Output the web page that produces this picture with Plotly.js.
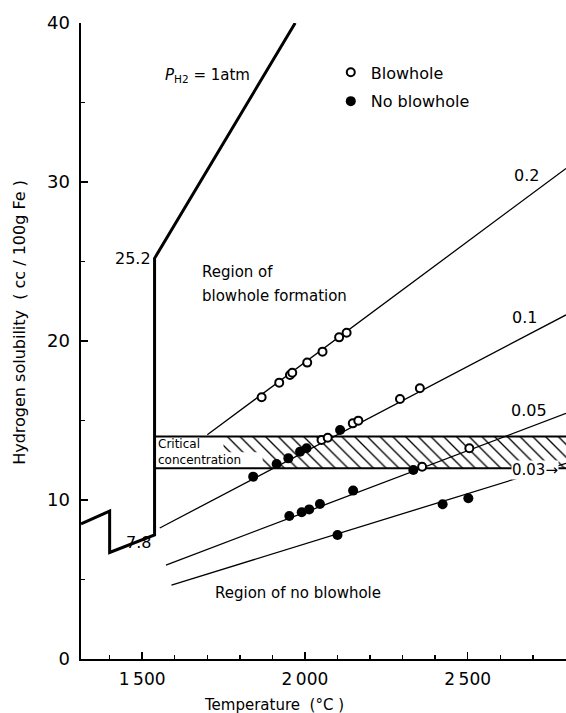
<!DOCTYPE html>
<html>
<head>
<meta charset="utf-8">
<script src="https://cdn.plot.ly/plotly-3.0.1.min.js"></script>
<style>html,body{margin:0;padding:0;background:#fff;}#chart{width:566px;height:713px;}</style>
</head>
<body>
<div id="chart"></div>
<script>
// Solubility curve at P_H2 = 1 atm
const p1Temp = [1312, 1400, 1400, 1538, 1538, 1970];
const p1Sol  = [8.5, 9.3, 6.7, 7.8, 25.2, 40];

// Iso-pressure lines (atm)
const line02Temp = [1700, 2802]; const line02Sol = [14.1, 30.85];
const line01Temp = [1554, 2802]; const line01Sol = [8.24, 21.64];
const line005Temp = [1573, 2802]; const line005Sol = [5.91, 15.45];
const line003Temp = [1590, 2802]; const line003Sol = [4.65, 12.31];
const lineLabels = ['0.2', '0.1', '0.05', '0.03\u2192'];
const lineLabelTemp = [2682, 2676, 2689, 2706];
const lineLabelSol = [30.4, 21.5, 15.66, 11.9];

// Critical concentration band (12 - 14 cc/100g Fe)
const bandLow = 12, bandHigh = 14, bandStart = 1538, bandEnd = 2830;
const bandTemp = [bandStart, bandEnd, bandEnd, bandStart, bandStart];
const bandSol = [bandLow, bandLow, bandHigh, bandHigh, bandLow];
const bandEdgeTemp = [bandStart, bandEnd, null, bandStart, bandEnd];
const bandEdgeSol = [bandLow, bandLow, null, bandHigh, bandHigh];
// white area behind the band label
const labelBoxTemp = [bandStart, 1870, 1870, 1750, 1750, bandStart, bandStart];
const labelBoxSol = [bandLow, bandLow, 13, 13, bandHigh, bandHigh, bandLow];

// Observations
const blowTemp = [1867,1921,1954,1961,2007,2054,2105,2128, 2051,2070,2147,2164,2292,2353, 2360,2505];
const blowSol  = [16.46,17.38,17.86,18.0,18.64,19.33,20.23,20.52, 13.77,13.92,14.82,14.99,16.35,17.03, 12.09,13.25];
const noBlowTemp = [1841,1913,1949,1985,2005,2108, 1952,1990,2013,2046,2148,2333, 2100,2423,2502];
const noBlowSol  = [11.47,12.26,12.62,13.04,13.25,14.4, 8.99,9.23,9.41,9.75,10.59,11.89, 7.80,9.73,10.11];

// Axis ticks
const xTickVals = [1500, 2000, 2500];
const xTickText = ['1\u2009500', '2\u2009000', '2\u2009500'];
const yTickVals = [0, 10, 20, 30, 40];

const F = 'DejaVu Sans, Liberation Sans, sans-serif';
const thin = {color: 'black', width: 1.3};

const traces = [
  {x: bandTemp, y: bandSol, mode: 'lines', fill: 'toself', showlegend: false, hoverinfo: 'skip',
   line: {color: 'black', width: 0}, fillcolor: 'white',
   fillpattern: {shape: '\\', fgcolor: 'black', bgcolor: 'white', size: 9, solidity: 0.15}},
  {x: labelBoxTemp, y: labelBoxSol, mode: 'lines', fill: 'toself', fillcolor: 'white',
   line: {width: 0, color: 'white'}, showlegend: false, hoverinfo: 'skip'},
  {x: bandEdgeTemp, y: bandEdgeSol, mode: 'lines', line: {color: 'black', width: 2}, showlegend: false},
  {x: p1Temp, y: p1Sol, mode: 'lines', line: {color: 'black', width: 3}, showlegend: false},
  {x: line02Temp, y: line02Sol, mode: 'lines', line: thin, showlegend: false},
  {x: line01Temp, y: line01Sol, mode: 'lines', line: thin, showlegend: false},
  {x: line005Temp, y: line005Sol, mode: 'lines', line: thin, showlegend: false},
  {x: line003Temp, y: line003Sol, mode: 'lines', line: thin, showlegend: false},
  {x: blowTemp, y: blowSol, mode: 'markers', name: 'Blowhole', legendgroup: 'a',
   marker: {symbol: 'circle', size: 8, color: 'white', line: {color: 'black', width: 2}}},
  {x: noBlowTemp, y: noBlowSol, mode: 'markers', name: 'No blowhole', legendgroup: 'b',
   marker: {symbol: 'circle', size: 10, color: 'black', line: {color: 'black', width: 0}}}
];

const annotations = [
  {x: 1532, y: 25.2, text: '25.2', xanchor: 'right', yanchor: 'middle', showarrow: false, font: {size: 16}},
  {x: 1532, y: 7.3, text: '7.8', xanchor: 'right', yanchor: 'middle', showarrow: false, font: {size: 16}},
  {x: 1564, y: 36.7, text: '<i>P</i><sub>H2</sub> = 1atm', xanchor: 'left', yanchor: 'middle', showarrow: false, font: {size: 15}},
  {x: 1678, y: 24.35, text: 'Region of', xanchor: 'left', yanchor: 'middle', showarrow: false, font: {size: 15}},
  {x: 1678, y: 22.8, text: 'blowhole formation', xanchor: 'left', yanchor: 'middle', showarrow: false, font: {size: 15}},
  {x: 1717, y: 4.15, text: 'Region of no blowhole', xanchor: 'left', yanchor: 'middle', showarrow: false, font: {size: 15}},
  {x: 1543, y: 13, text: 'Critical<br>concentration', xanchor: 'left', yanchor: 'middle', align: 'left', showarrow: false,
   font: {size: 12}},
  {xref: 'paper', yref: 'paper', x: 0.398, y: -0.0723, text: 'Temperature  (°C )', showarrow: false,
   xanchor: 'center', yanchor: 'middle', font: {size: 15}},
  {xref: 'paper', yref: 'paper', x: -0.126, y: 0.53, text: 'Hydrogen solubility  ( cc / 100g Fe )', showarrow: false,
   textangle: -90, xanchor: 'center', yanchor: 'middle', font: {size: 16}}
];
for (let i = 0; i < lineLabels.length; i++) {
  annotations.push({x: lineLabelTemp[i], y: lineLabelSol[i], text: lineLabels[i], showarrow: false,
    xanchor: 'center', yanchor: 'middle', font: {size: i === 3 ? 15 : 16},
    bgcolor: i === 3 ? 'white' : 'rgba(0,0,0,0)', borderpad: 0});
}

const layout = {
  width: 566, height: 713,
  margin: {l: 81, r: 0, t: 23, b: 54},
  paper_bgcolor: 'white', plot_bgcolor: 'white',
  font: {family: F, color: 'black'},
  showlegend: true,
  legend: {x: 0.515, y: 0.949, xanchor: 'left', yanchor: 'top', bgcolor: 'rgba(0,0,0,0)',
    font: {size: 16}, tracegroupgap: 5, traceorder: 'grouped'},
  xaxis: {range: [1312, 2802], showgrid: false, zeroline: false, showline: true, linecolor: 'black', linewidth: 2,
    ticks: 'inside', ticklen: 7, tickwidth: 1.5, tickcolor: 'black',
    tickmode: 'array', tickvals: xTickVals, ticktext: xTickText, tickfont: {size: 17}, ticklabelstandoff: 4,
    minor: {tickmode: 'linear', tick0: 1300, dtick: 100, ticks: 'inside', ticklen: 4, tickwidth: 1.5, tickcolor: 'black', showgrid: false}},
  yaxis: {range: [0, 40], showgrid: false, zeroline: false, showline: true, linecolor: 'black', linewidth: 2.5,
    ticks: 'inside', ticklen: 7, tickwidth: 1.5, tickcolor: 'black',
    tickmode: 'array', tickvals: yTickVals, tickfont: {size: 18}, ticklabelstandoff: 5,
    minor: {tickmode: 'linear', tick0: 0, dtick: 5, ticks: 'inside', ticklen: 4, tickwidth: 1.5, tickcolor: 'black', showgrid: false}},
  annotations: annotations
};

Plotly.newPlot('chart', traces, layout, {staticPlot: true, displayModeBar: false});
</script>
</body>
</html>
